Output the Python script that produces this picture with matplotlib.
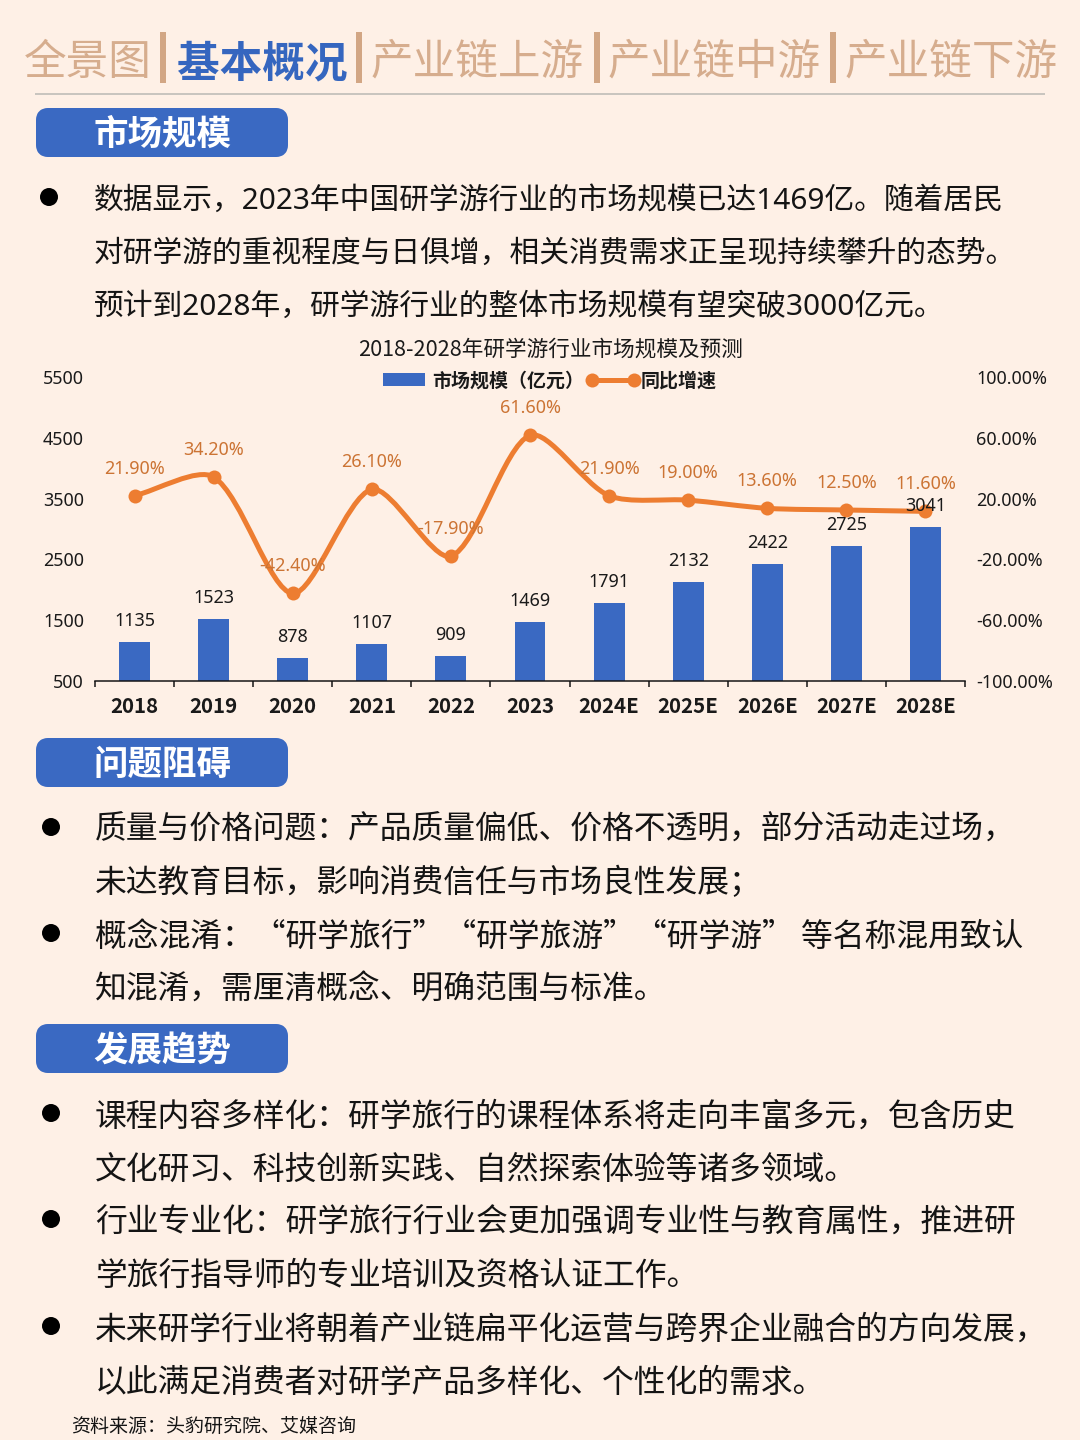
import matplotlib
matplotlib.use('Agg')
import matplotlib.pyplot as plt
from matplotlib.patches import FancyBboxPatch, Rectangle, Circle, PathPatch, Patch
from matplotlib.path import Path
from matplotlib.lines import Line2D
from matplotlib.legend_handler import HandlerLine2D
import math

plt.rcParams['font.family'] = ['Noto Sans CJK SC', 'DejaVu Sans']

# dados do grafico
anos = ['2018', '2019', '2020', '2021', '2022', '2023', '2024E', '2025E', '2026E', '2027E', '2028E']
mercado = [1135, 1523, 878, 1107, 909, 1469, 1791, 2132, 2422, 2725, 3041]
crescimento = [21.9, 34.2, -42.4, 26.1, -17.9, 61.6, 21.9, 19.0, 13.6, 12.5, 11.6]
ticks_esq = [500, 1500, 2500, 3500, 4500, 5500]
ticks_dir = [-100, -60, -20, 20, 60, 100]

titulo_grafico = '2018-2028年研学游行业市场规模及预测'
nome_barras = '市场规模（亿元）'
nome_linha = '同比增速'

abas = [('全景图', 24, False), ('基本概况', 177, True), ('产业链上游', 371, False),
        ('产业链中游', 608, False), ('产业链下游', 845, False)]
separadores = [163, 359, 597, 833]
secoes = [('市场规模', 108), ('问题阻碍', 738), ('发展趋势', 1024)]

paragrafo1 = [('数据显示，2023年中国研学游行业的市场规模已达1469亿。随着居民', 201),
              ('对研学游的重视程度与日俱增，相关消费需求正呈现持续攀升的态势。', 254),
              ('预计到2028年，研学游行业的整体市场规模有望突破3000亿元。', 307)]
paragrafo2 = [('质量与价格问题：产品质量偏低、价格不透明，部分活动走过场，', 830),
              ('未达教育目标，影响消费信任与市场良性发展；', 883),
              ('概念混淆：“研学旅行”“研学旅游”“研学游” 等名称混用致认', 937),
              ('知混淆，需厘清概念、明确范围与标准。', 990)]
paragrafo3 = [('课程内容多样化：研学旅行的课程体系将走向丰富多元，包含历史', 1117),
              ('文化研习、科技创新实践、自然探索体验等诸多领域。', 1170),
              ('行业专业化：研学旅行行业会更加强调专业性与教育属性，推进研', 1223),
              ('学旅行指导师的专业培训及资格认证工作。', 1276),
              ('未来研学行业将朝着产业链扁平化运营与跨界企业融合的方向发展，', 1330),
              ('以此满足消费者对研学产品多样化、个性化的需求。', 1383)]
marcadores = [(49, 197), (51, 827), (51, 933), (51, 1113), (51, 1219), (51, 1326)]
fonte = '资料来源：头豹研究院、艾媒咨询'

FUNDO = '#FEF0E6'
AZUL = '#3A69C2'
LARANJA = '#ED7D31'
TAN = '#D6AD8E'
LATIM = ['Noto Sans', 'Noto Sans CJK SC', 'DejaVu Sans']
px = 0.72  # 1 pixel em pontos (dpi=100)

fig = plt.figure(figsize=(10.8, 14.4), dpi=100, facecolor=FUNDO)

# camada de fundo em coordenadas de pixel
tela = fig.add_axes([0, 0, 1, 1])
tela.set_xlim(0, 1080)
tela.set_ylim(1440, 0)
tela.axis('off')

for texto, x, ativo in abas:
    tela.text(x, 63, texto, fontsize=42.6 * px, va='center', ha='left',
              color='#3566BF' if ativo else TAN, fontweight='bold' if ativo else 'normal')
for x in separadores:
    tela.add_patch(Rectangle((x - 3, 32), 6, 51, color='#D2A684', lw=0))
tela.plot([36, 1044], [94, 94], color='#C9C5BF', lw=2 * px)

for texto, y in secoes:
    tela.add_patch(FancyBboxPatch((40, y + 4), 244, 41, boxstyle='round,pad=0,rounding_size=8',
                                  mutation_aspect=1, fc=AZUL, ec=AZUL, lw=8 * px, joinstyle='round'))
    tela.text(93.5, y + 26, texto, fontsize=34.5 * px, fontweight='bold', color='white', va='center', ha='left')

for texto, y in paragrafo1:
    tela.text(94, y, texto, fontsize=29.8 * px, color='#141414', va='center', ha='left', family=LATIM)
for texto, y in paragrafo2 + paragrafo3:
    tela.text(95, y, texto, fontsize=31.8 * px, color='#141414', va='center', ha='left')
for x, y in marcadores:
    tela.add_patch(Circle((x, y), 9, color='black', lw=0))
tela.text(71, 1426, fonte, fontsize=19 * px, color='#141414', va='center', ha='left')

# grafico
L, R, T, B = 95, 965, 377, 681
ax = fig.add_axes([L / 1080, 1 - B / 1440, (R - L) / 1080, (B - T) / 1440])
ax.patch.set_alpha(0)
pos = list(range(len(anos)))
ax.bar(pos, mercado, width=0.39, color=AZUL, bottom=0)
ax.set_xlim(-0.5, len(anos) - 0.5)
ax.set_ylim(500, 5500)
ax.set_yticks(ticks_esq)
for s in ['top', 'left', 'right']:
    ax.spines[s].set_visible(False)
ax.spines['bottom'].set_linewidth(1.5 * px)
ax.spines['bottom'].set_color('#111111')
ax.tick_params(axis='y', length=0, pad=11 * px, labelsize=18 * px, labelcolor='#1a1a1a')
ax.set_xticks([p - 0.5 for p in pos] + [len(anos) - 0.5])
ax.set_xticklabels([])
ax.tick_params(axis='x', which='major', length=6 * px, width=1.5 * px, color='#111111')
ax.set_xticks(pos, minor=True)
ax.set_xticklabels(anos, minor=True, fontsize=20.5 * px, fontweight='bold', color='#1a1a1a')
ax.tick_params(axis='x', which='minor', length=0, pad=15 * px)
for t in ax.get_yticklabels():
    t.set_family(LATIM)

ax2 = ax.twinx()
ax2.patch.set_alpha(0)
ax2.set_ylim(-100, 100)
ax2.set_yticks(ticks_dir)
ax2.set_yticklabels(['%.2f%%' % v for v in ticks_dir], family=LATIM)
ax2.tick_params(axis='y', length=0, pad=11 * px, labelsize=18 * px, labelcolor='#1a1a1a')
for s in ['top', 'left', 'right', 'bottom']:
    ax2.spines[s].set_visible(False)

# linha suavizada: bezier com tangente proporcional a distancia na tela
tela_pts = ax2.transData.transform(list(zip(pos, crescimento)))
def dist(i, j):
    return math.hypot(*(tela_pts[i] - tela_pts[j]))

k = 0.28
n = len(pos)
verts = [(pos[0], crescimento[0])]
codes = [Path.MOVETO]
for i in range(n - 1):
    a = max(i - 1, 0)
    d = min(i + 2, n - 1)
    seg = dist(i, i + 1)
    f1 = seg / (dist(a, i) + seg) * k if i > 0 else k
    f2 = seg / (dist(d, i + 1) + seg) * k if i + 1 < n - 1 else k
    verts.append((pos[i] + (pos[i + 1] - pos[a]) * f1, crescimento[i] + (crescimento[i + 1] - crescimento[a]) * f1))
    verts.append((pos[i + 1] - (pos[d] - pos[i]) * f2, crescimento[i + 1] - (crescimento[d] - crescimento[i]) * f2))
    verts.append((pos[i + 1], crescimento[i + 1]))
    codes += [Path.CURVE4] * 3
ax2.add_patch(PathPatch(Path(verts, codes), fc='none', ec=LARANJA, lw=5 * px, capstyle='round'))
ax2.plot(pos, crescimento, ls='none', marker='o', ms=14 * px, color=LARANJA, mew=0)

for p, v in zip(pos, crescimento):
    ax2.annotate('%.2f%%' % v, (p, v), xytext=(0, 27 * px), textcoords='offset points', ha='center', va='center',
                 fontsize=18 * px, color='#CC7434', family=LATIM)
for p, v in zip(pos, mercado):
    ax2.annotate(str(v), (p, v), xycoords=ax.transData, xytext=(0, 21 * px), textcoords='offset points',
                 ha='center', va='center', fontsize=18 * px, color='#1a1a1a', family=LATIM)

tela.text(551, 350, titulo_grafico, fontsize=21.6 * px, color='#1a1a1a', ha='center', va='center')

h1 = Patch(fc=AZUL, ec='none')
h2 = Line2D([0, 1], [0, 0], color=LARANJA, lw=5 * px, marker='o', ms=14 * px, mew=0)
fig.legend([h1, h2], [nome_barras, nome_linha], loc='center', bbox_to_anchor=(550 / 1080, 1 - 381 / 1440),
           ncol=2, frameon=False, prop={'size': 19 * px, 'weight': 'bold'}, handlelength=2.2,
           handleheight=0.65, handletextpad=0.37, columnspacing=0.42, numpoints=2, labelcolor='#1a1a1a',
           handler_map={h2: HandlerLine2D(marker_pad=0)})

fig.savefig('out.png', dpi=100, facecolor=FUNDO)
